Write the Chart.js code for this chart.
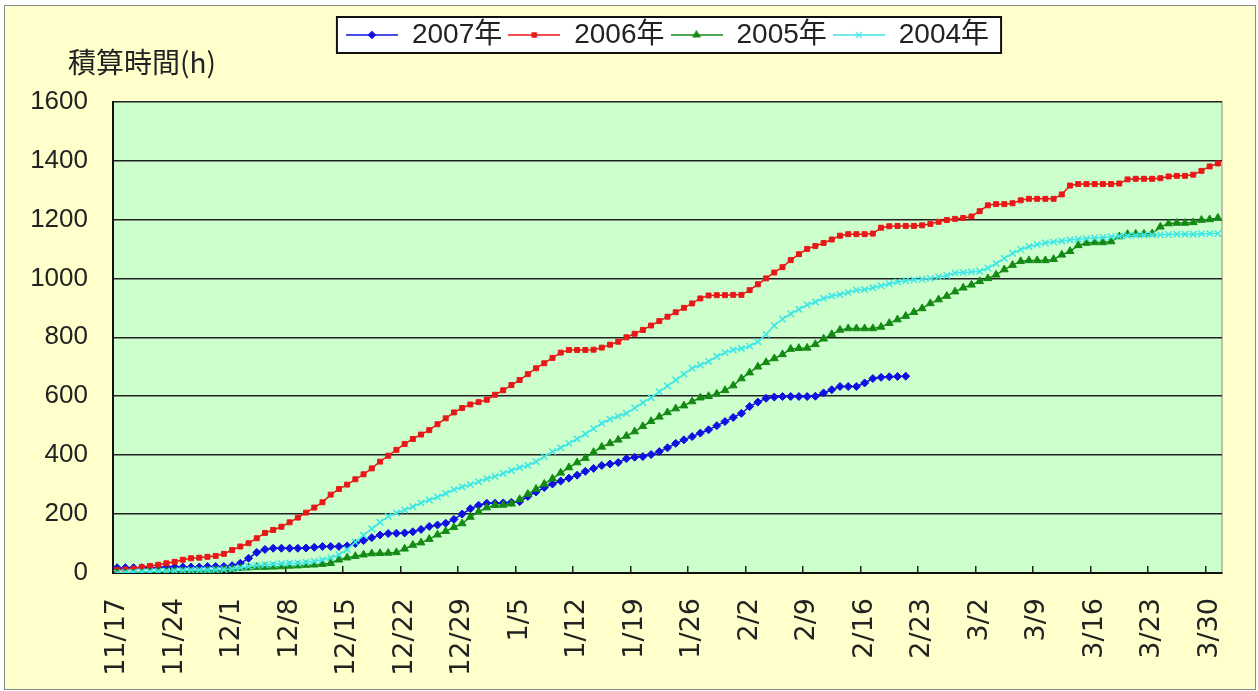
<!DOCTYPE html>
<html>
<head>
<meta charset="utf-8">
<script src="https://cdn.jsdelivr.net/npm/chart.js@4/dist/chart.umd.min.js"></script>
<style>
  body { margin: 0; background: #fff; }
  #wrap { position: absolute; left: 4px; top: 5px; width: 1250px; height: 683px; border: 1px solid #8a8a8a; background: #ffffcc; }
  canvas { display: block; }
</style>
</head>
<body>
<div id="wrap"><canvas id="chart" width="1250" height="683"></canvas></div>
<script>
// 日付 (11/17 ～ 3/31)
const dates = [
  '11/17','11/18','11/19','11/20','11/21','11/22','11/23','11/24','11/25','11/26','11/27','11/28','11/29','11/30',
  '12/1','12/2','12/3','12/4','12/5','12/6','12/7','12/8','12/9','12/10','12/11','12/12','12/13','12/14','12/15','12/16',
  '12/17','12/18','12/19','12/20','12/21','12/22','12/23','12/24','12/25','12/26','12/27','12/28','12/29','12/30','12/31',
  '1/1','1/2','1/3','1/4','1/5','1/6','1/7','1/8','1/9','1/10','1/11','1/12','1/13','1/14','1/15','1/16',
  '1/17','1/18','1/19','1/20','1/21','1/22','1/23','1/24','1/25','1/26','1/27','1/28','1/29','1/30','1/31',
  '2/1','2/2','2/3','2/4','2/5','2/6','2/7','2/8','2/9','2/10','2/11','2/12','2/13','2/14','2/15','2/16',
  '2/17','2/18','2/19','2/20','2/21','2/22','2/23','2/24','2/25','2/26','2/27','2/28',
  '3/1','3/2','3/3','3/4','3/5','3/6','3/7','3/8','3/9','3/10','3/11','3/12','3/13','3/14','3/15','3/16',
  '3/17','3/18','3/19','3/20','3/21','3/22','3/23','3/24','3/25','3/26','3/27','3/28','3/29','3/30','3/31'
];

const seriesNames = ['2007年', '2006年', '2005年', '2004年'];
const yTitle = '積算時間(h)';

const hours2007 = [
  18,18,18,18,18,18,20,20,20,20,
  20,22,22,22,25,33,50,70,80,84,
  84,84,84,85,87,90,90,90,92,100,
  110,120,129,134,135,136,140,148,158,163,
  169,182,200,218,230,237,237,238,240,242,
  260,275,290,302,312,322,332,345,355,365,
  370,375,388,393,395,402,412,425,440,452,
  463,475,486,500,514,528,542,565,580,593,
  597,599,599,599,599,600,611,622,633,633,
  633,645,660,664,666,667,668
];

const hours2006 = [
  10,12,15,20,24,28,33,38,45,50,
  52,55,58,65,78,90,101,118,136,146,
  157,172,188,205,222,240,266,285,300,318,
  335,355,378,398,418,438,455,470,485,505,
  525,545,560,572,580,588,605,620,638,655,
  675,695,712,730,748,757,757,757,758,765,
  775,785,800,812,825,840,855,870,885,900,
  915,932,942,943,943,944,944,960,980,1000,
  1020,1038,1062,1082,1100,1110,1120,1132,1145,1150,
  1150,1150,1152,1172,1177,1178,1178,1178,1180,1185,
  1192,1198,1202,1205,1210,1228,1248,1252,1252,1255,
  1265,1270,1270,1270,1270,1285,1315,1320,1320,1320,
  1320,1320,1322,1336,1338,1338,1338,1340,1346,1348,
  1348,1352,1365,1380,1390
];

const hours2005 = [
  0,0,0,0,2,3,3,4,5,5,
  6,8,10,12,14,16,18,20,20,21,
  22,24,25,27,28,30,33,45,52,57,
  62,66,67,68,70,82,95,103,115,130,
  142,155,168,190,208,222,230,231,235,250,
  268,285,302,320,340,358,375,390,410,428,
  440,452,465,480,498,515,530,545,558,568,
  582,595,600,608,620,636,660,680,700,715,
  728,742,760,763,764,776,795,810,825,830,
  830,830,830,835,848,860,872,885,898,915,
  928,940,955,968,978,990,1000,1012,1030,1045,
  1058,1061,1061,1061,1065,1080,1092,1112,1120,1122,
  1122,1125,1142,1150,1151,1151,1152,1175,1186,1188,
  1188,1190,1198,1200,1205
];

const hours2004 = [
  0,2,3,4,5,6,7,8,9,10,
  10,10,11,12,14,18,22,26,28,30,
  32,33,34,36,40,45,52,62,80,105,
  128,150,172,192,204,214,225,238,248,258,
  270,283,292,300,310,320,328,338,348,358,
  365,378,395,412,425,440,455,472,490,508,
  522,532,542,560,578,595,615,635,655,675,
  695,706,718,735,748,757,762,770,785,810,
  840,862,880,895,910,920,932,940,945,952,
  960,962,968,975,982,988,992,995,997,1000,
  1005,1010,1018,1020,1022,1024,1035,1050,1068,1085,
  1098,1108,1115,1120,1124,1127,1130,1133,1135,1137,
  1139,1141,1143,1145,1146,1147,1148,1148,1149,1150,
  1150,1150,1151,1152,1152
];

const yTicks = [0, 200, 400, 600, 800, 1000, 1200, 1400, 1600];

const colors = ['#1010e0', '#e81818', '#148a14', '#3ee6e6'];
const markers = ['rectRot', 'rect', 'triangle', 'crossRot'];
const radii = [4, 3.5, 4.5, 4.5];

const fontLatin = "'Liberation Sans', 'Noto Sans CJK JP', sans-serif";

// 凡例用: 線 + マーカー
function legendIcon(i) {
  const c = document.createElement('canvas');
  c.width = 52; c.height = 14;
  const g = c.getContext('2d');
  g.strokeStyle = colors[i];
  g.lineWidth = 1.5;
  g.beginPath(); g.moveTo(0, 7); g.lineTo(52, 7); g.stroke();
  g.fillStyle = colors[i];
  g.lineWidth = 1.2;
  Chart.helpers.drawPoint(g, { pointStyle: markers[i], radius: radii[i] - 0.5, borderWidth: 1.2, rotation: 0 }, 26, 7);
  return c;
}

const allHours = [hours2007, hours2006, hours2005, hours2004];

const plotBg = {
  id: 'plotBg',
  beforeDraw(chart) {
    const ctx = chart.ctx;
    const a = chart.chartArea;
    ctx.save();
    ctx.fillStyle = '#ccffcc';
    ctx.fillRect(a.left, a.top, a.right - a.left, a.bottom - a.top);
    ctx.strokeStyle = '#8a8a8a';
    ctx.lineWidth = 1;
    ctx.strokeRect(a.left, a.top, a.right - a.left, a.bottom - a.top);
    // 凡例の枠
    const boxes = chart.legend.legendHitBoxes;
    if (boxes && boxes.length) {
      const l = Math.min(...boxes.map(b => b.left)) - 9;
      const r = Math.max(...boxes.map(b => b.left + b.width)) + 12;
      const t = boxes[0].top - 4;
      const h = boxes[0].height + 8;
      ctx.fillStyle = '#ffffff';
      ctx.fillRect(l, t, r - l, h);
      ctx.strokeStyle = '#111';
      ctx.lineWidth = 2;
      ctx.strokeRect(l, t, r - l, h);
    }
    ctx.restore();
  },
  // 縦軸の見出し (軸の左上、横書き)
  afterDraw(chart) {
    const ctx = chart.ctx;
    const a = chart.chartArea;
    ctx.save();
    ctx.fillStyle = '#222';
    ctx.font = "28px 'Noto Sans CJK JP', sans-serif";
    ctx.textAlign = 'left';
    ctx.textBaseline = 'middle';
    ctx.fillText(yTitle, a.left - 45, a.top - 39);
    ctx.restore();
  }
};

const ctx = document.getElementById('chart');
const chart = new Chart(ctx, {
  type: 'line',
  data: {
    labels: dates,
    datasets: seriesNames.map((name, i) => ({
      label: name,
      data: allHours[i],
      borderColor: colors[i],
      backgroundColor: colors[i],
      borderWidth: 1.5,
      pointStyle: markers[i],
      pointRadius: radii[i],
      pointBorderWidth: i === 3 ? 1.5 : 1,
      pointBorderColor: colors[i],
      pointBackgroundColor: colors[i],
      tension: 0,
      fill: false,
      order: 4 - i
    }))
  },
  options: {
    responsive: false,
    animation: false,
    layout: { padding: { top: 9, left: 20, right: 33, bottom: 0 } },
    plugins: {
      legend: {
        position: 'top',
        fullSize: false,
        labels: {
          usePointStyle: true,
          pointStyleWidth: 52,
          padding: 6,
          color: '#222',
          font: { family: fontLatin, size: 28 },
          generateLabels: (chart) => chart.data.datasets.map((ds, i) => ({
            text: ds.label,
            pointStyle: legendIcon(i),
            fillStyle: colors[i],
            strokeStyle: colors[i],
            lineWidth: 0,
            hidden: false,
            datasetIndex: i,
            fontColor: '#222'
          }))
        }
      },
      // 見出し用の余白 (文字は plotBg で描く)
      title: {
        display: true,
        text: '',
        position: 'top',
        weight: 500,
        font: { family: "'Noto Sans CJK JP', sans-serif", size: 28, weight: 'normal' },
        padding: { top: -13, bottom: 22 }
      },
      tooltip: { enabled: false }
    },
    scales: {
      x: {
        offset: true,
        afterFit: (s) => { s.height = 116; s.paddingRight = 0; s.paddingLeft = 0; },
        grid: {
          offset: true,
          drawOnChartArea: false,
          drawTicks: true,
          tickLength: -7,
          lineWidth: 1.5,
          color: (c) => (c.index % 7 === 0 ? '#222' : 'rgba(0,0,0,0)')
        },
        border: { color: '#111', width: 2 },
        ticks: {
          autoSkip: false,
          maxRotation: 90,
          minRotation: 90,
          padding: 32,
          color: '#222',
          font: { family: "'DejaVu Sans', sans-serif", size: 27 },
          callback: (v, i) => (i % 7 === 0 ? dates[i] : '')
        }
      },
      y: {
        min: yTicks[0],
        max: yTicks[yTicks.length - 1],
        afterFit: (s) => { s.width = 88; },
        afterBuildTicks: (s) => { s.ticks = yTicks.map(v => ({ value: v })); },
        grid: { color: '#222', lineWidth: 1.5, drawTicks: false },
        border: { color: '#111', width: 2 },
        ticks: {
          padding: 25,
          color: '#222',
          font: { family: fontLatin, size: 26 },
          callback: (v) => String(v)
        }
      }
    }
  },
  plugins: [plotBg]
});
</script>
</body>
</html>
